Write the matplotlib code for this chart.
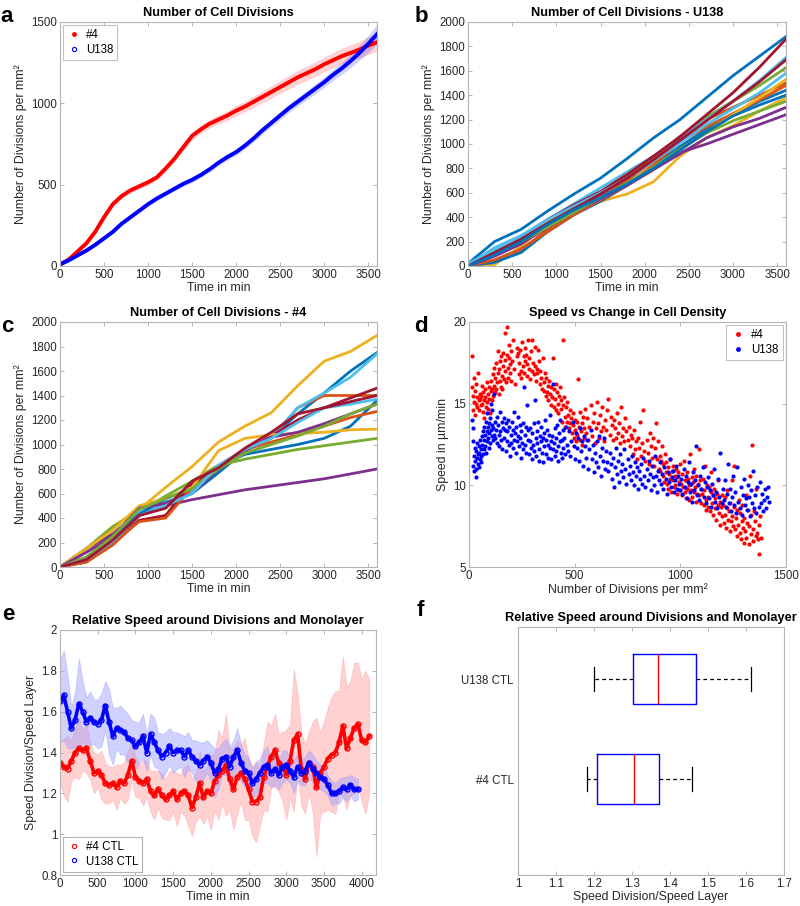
import numpy as np
import matplotlib
matplotlib.use("Agg")
import matplotlib.pyplot as plt
from matplotlib.lines import Line2D

plt.rcParams['font.family'] = ['Liberation Sans', 'DejaVu Sans']

# ---------------- Panel a data ----------------
a_time = [0, 100, 200, 300, 400, 500, 600, 700, 800, 900, 1000, 1100, 1200, 1300, 1400, 1500, 1600, 1700, 1800,
          1900, 2000, 2100, 2200, 2300, 2400, 2500, 2600, 2700, 2800, 2900, 3000, 3100, 3200, 3300, 3400, 3500, 3600]
a_red = [10, 40, 90, 140, 210, 300, 380, 430, 465, 490, 515, 545, 600, 660, 730, 800, 840, 875, 900,
         925, 955, 980, 1010, 1040, 1070, 1100, 1130, 1160, 1185, 1210, 1240, 1265, 1290, 1310, 1330, 1355, 1375]
a_red_err = [3, 5, 8, 10, 12, 14, 15, 16, 16, 17, 18, 18, 19, 20, 22, 24, 25, 26, 28,
             30, 32, 33, 35, 36, 38, 40, 42, 43, 44, 45, 46, 47, 48, 50, 52, 54, 55]
a_blue = [10, 35, 65, 95, 130, 170, 210, 260, 300, 340, 380, 415, 445, 475, 505, 530, 560, 595, 635,
          670, 700, 740, 785, 835, 880, 925, 970, 1010, 1050, 1090, 1130, 1175, 1215, 1260, 1310, 1365, 1425]
a_blue_err = [3, 5, 7, 8, 9, 10, 11, 12, 12, 13, 13, 14, 14, 15, 15, 16, 16, 17, 18,
              19, 20, 21, 22, 23, 24, 25, 26, 27, 28, 30, 32, 34, 36, 40, 45, 52, 60]

# ---------------- Panels b / c data ----------------
bc_time = [0, 300, 600, 900, 1200, 1500, 1800, 2100, 2400, 2700, 3000, 3300, 3600]
b_series = [
    [20, 200, 300, 450, 590, 720, 880, 1050, 1200, 1380, 1560, 1720, 1880],
    [0, 40, 130, 300, 450, 560, 700, 860, 1060, 1200, 1300, 1400, 1500],
    [0, 10, 160, 350, 460, 530, 590, 690, 900, 1050, 1150, 1270, 1380],
    [0, 100, 230, 350, 470, 570, 680, 800, 930, 1000, 1080, 1160, 1240],
    [0, 110, 220, 360, 480, 600, 740, 880, 1060, 1220, 1350, 1480, 1625],
    [10, 150, 250, 380, 510, 640, 770, 900, 1050, 1200, 1350, 1520, 1710],
    [0, 120, 230, 380, 500, 610, 750, 900, 1060, 1240, 1420, 1630, 1860],
    [0, 30, 110, 280, 420, 530, 660, 820, 980, 1120, 1240, 1350, 1440],
    [0, 50, 140, 280, 420, 540, 660, 830, 1020, 1140, 1250, 1360, 1480],
    [0, 90, 230, 370, 470, 560, 660, 790, 950, 1100, 1240, 1380, 1530],
    [0, 80, 180, 320, 440, 550, 660, 790, 920, 1050, 1140, 1210, 1300],
    [0, 100, 200, 320, 440, 560, 680, 810, 960, 1090, 1190, 1270, 1350],
    [20, 130, 240, 380, 490, 600, 720, 860, 1010, 1160, 1290, 1420, 1580],
    [0, 110, 220, 350, 470, 590, 720, 870, 1030, 1190, 1350, 1510, 1690],
    [0, 90, 200, 340, 460, 560, 670, 800, 950, 1100, 1230, 1320, 1400],
]
c_series = [
    [0, 60, 200, 420, 530, 600, 770, 950, 1060, 1250, 1420, 1600, 1750],
    [0, 40, 180, 380, 420, 700, 830, 960, 1050, 1300, 1400, 1400, 1400],
    [0, 150, 330, 470, 650, 820, 1020, 1150, 1260, 1480, 1680, 1760, 1890],
    [0, 150, 270, 450, 500, 550, 590, 630, 660, 690, 720, 760, 800],
    [0, 150, 330, 450, 580, 700, 830, 880, 920, 960, 990, 1020, 1050],
    [0, 50, 200, 450, 520, 620, 820, 950, 1060, 1300, 1420, 1550, 1740],
    [0, 50, 200, 380, 420, 680, 800, 950, 1070, 1200, 1300, 1380, 1460],
    [0, 80, 250, 430, 560, 640, 820, 920, 960, 1000, 1050, 1150, 1360],
    [0, 40, 200, 370, 400, 650, 800, 960, 1020, 1080, 1150, 1220, 1270],
    [0, 150, 300, 500, 560, 650, 950, 1050, 1080, 1090, 1100, 1120, 1125],
    [0, 120, 250, 480, 520, 600, 800, 950, 1060, 1100, 1170, 1250, 1330],
    [0, 80, 250, 470, 560, 640, 800, 930, 1000, 1070, 1150, 1250, 1330],
    [0, 60, 210, 420, 500, 600, 830, 960, 1050, 1180, 1300, 1330, 1370],
    [0, 60, 220, 420, 480, 700, 810, 970, 1100, 1250, 1300, 1350, 1400],
]
matlab_colors = ['#0072BD', '#D95319', '#EDB120', '#7E2F8E', '#77AC30', '#4DBEEE', '#A2142F']

# ---------------- Panel d data ----------------
d_red = [
    (12,16.0),(15,17.9),(18,15.5),(20,14.6),(22,16.6),(25,15.1),(28,14.3),(30,15.8),(33,16.2),(35,15.0),(38,14.8),
    (40,15.4),(42,16.9),(45,15.2),(48,14.6),(50,15.6),(52,15.3),(55,14.9),(58,15.5),(60,16.1),(62,15.0),(65,14.5),
    (68,15.7),(70,15.2),(72,14.1),(75,15.9),(78,15.4),(80,14.8),(83,16.3),(85,15.1),(88,14.7),(90,15.6),(93,16.0),
    (95,15.3),(98,14.4),
    (102,15.8),(105,16.4),(108,15.2),(110,15.9),(113,16.8),(115,15.5),(118,17.2),(120,16.1),(123,15.7),(125,16.6),
    (128,17.5),(130,15.9),(133,16.3),(135,18.2),(138,16.9),(140,15.6),(143,17.1),(145,16.4),(148,17.6),(150,16.0),
    (153,17.9),(155,16.7),(158,15.9),(160,17.3),(163,18.1),(165,16.5),(168,17.0),(170,19.3),(172,17.7),(175,16.3),
    (178,19.7),(180,18.0),(183,17.2),(185,16.6),(188,17.8),(190,18.6),(193,16.9),(195,17.4),(198,18.2),(200,16.4),
    (205,17.6),(210,18.9),(215,17.1),(220,16.2),(225,18.4),(228,17.9),(232,18.1),(235,16.8),(238,17.5),(240,18.3),
    (245,17.0),(248,16.6),
    (252,18.8),(255,17.3),(258,17.9),(260,16.9),(263,18.4),(266,17.6),(270,18.0),(273,16.7),(276,17.4),(280,18.9),
    (283,17.1),(286,17.8),(290,16.5),(293,18.2),(296,17.0),(300,18.9),(303,17.5),(306,16.8),(310,17.3),(313,18.5),
    (316,16.4),(320,17.1),(323,16.9),(326,18.3),(330,17.6),(334,16.2),(338,17.0),(342,16.6),(346,15.9),(350,17.8),
    (353,16.3),(356,15.8),(360,16.9),(363,15.5),(366,16.6),(370,15.7),(373,16.1),(376,15.2),(380,16.4),(383,15.6),
    (386,14.9),(390,16.0),(393,15.4),(396,17.8),(400,15.9),(403,14.8),(406,15.3),(410,16.2),(413,14.6),(416,15.7),
    (420,15.0),(423,14.4),(426,15.5),(430,16.0),(433,14.7),(436,15.2),(440,13.9),(443,14.9),(446,18.9),(450,15.4),
    (453,14.2),(456,13.6),(460,14.8),(463,13.9),(466,15.1),(470,14.3),(473,13.5),(476,14.6),(480,13.8),(483,14.1),
    (486,13.2),(490,14.4),(493,13.7),(496,12.9),(500,14.0),(503,13.4),(506,12.7),(510,13.9),(513,13.1),(516,16.5),
    (520,13.6),(523,12.8),(526,14.5),(530,13.3),(533,12.5),(536,13.8),(540,14.2),(543,12.9),(546,13.5),(550,14.7),
    (555,13.2),(560,14.1),(565,12.8),(570,13.6),(575,14.9),(580,13.0),(585,13.9),(590,14.4),(595,12.6),(600,13.5),
    (605,15.1),(610,13.8),(615,12.9),(620,14.3),(625,13.3),(630,14.8),(635,13.6),(640,12.7),(645,14.0),(650,13.4),
    (655,14.6),(660,15.3),(665,13.1),(670,14.2),(675,13.7),(680,12.8),(685,14.0),(690,13.5),(695,12.9),(700,14.4),
    (705,13.2),(710,13.8),(715,12.6),(720,14.8),(725,13.0),(730,13.5),(735,12.7),(740,14.1),(745,13.3),(750,12.8),
    (755,13.6),(760,12.4),(765,13.1),(770,12.9),(775,11.9),(780,13.4),(785,12.2),(790,12.7),(795,11.6),(800,12.9),
    (805,12.3),(810,13.9),(815,11.8),(820,12.6),(825,14.6),(830,12.1),(835,11.5),(840,12.8),(845,12.0),(850,11.3),
    (855,13.2),(860,12.4),(865,11.7),(870,12.9),(875,11.2),(880,12.3),(885,13.8),(890,11.6),(895,12.7),(900,11.0),
    (903,11.8),(906,10.9),(910,11.5),(913,12.4),(916,10.6),(920,11.3),(923,10.2),(926,11.9),(930,10.8),(933,11.4),
    (936,10.1),(940,11.1),(943,9.8),(946,10.7),(950,11.6),(953,10.4),(956,9.6),(960,10.9),(963,10.3),(966,11.2),
    (970,9.9),(973,10.6),(976,10.0),(980,11.0),(983,9.5),(986,10.5),(990,10.8),(993,9.7),(996,10.2),(999,11.3),
    (1003,10.1),(1006,9.4),(1010,10.7),(1013,9.9),(1016,11.5),(1020,9.6),(1023,10.3),(1026,9.2),(1030,10.8),(1033,9.8),
    (1036,10.4),(1040,9.1),(1043,10.0),(1046,11.9),(1050,9.7),(1053,10.5),(1056,9.3),(1060,10.2),(1063,9.6),(1066,11.0),
    (1070,9.9),(1073,9.0),(1076,10.6),(1080,9.5),(1083,10.1),(1086,12.2),(1090,9.4),(1093,10.3),(1096,8.9),(1099,9.8),
    (1103,9.5),(1106,10.4),(1110,8.8),(1113,9.7),(1116,11.2),(1120,9.1),(1123,8.5),(1126,10.0),(1130,9.3),(1133,8.7),
    (1136,9.9),(1140,8.4),(1143,9.6),(1146,10.8),(1150,8.9),(1153,9.4),(1156,8.2),(1160,9.8),(1163,8.6),(1166,9.2),
    (1170,7.9),(1173,9.5),(1176,8.8),(1180,10.3),(1183,8.3),(1186,9.0),(1190,7.6),(1193,8.7),(1196,9.4),(1199,8.1),
    (1203,8.8),(1206,7.7),(1210,9.3),(1213,8.2),(1216,7.4),(1220,8.6),(1223,9.7),(1226,7.9),(1230,8.4),(1233,7.2),
    (1236,8.9),(1240,7.8),(1243,10.3),(1246,8.1),(1250,7.5),(1253,8.7),(1256,11.2),(1260,7.3),(1263,8.0),(1266,6.9),
    (1270,8.5),(1273,7.6),(1276,9.1),(1280,7.1),(1283,8.3),(1286,6.7),(1290,7.8),(1293,8.8),(1296,7.4),(1299,6.5),
    (1303,8.0),(1306,7.2),(1310,9.4),(1313,6.8),(1316,7.7),(1320,8.5),(1323,6.4),(1326,7.5),(1330,10.6),(1333,7.0),
    (1336,8.2),(1340,12.5),(1343,7.3),(1346,6.6),(1350,8.4),(1353,7.8),(1356,6.9),(1360,9.8),(1363,7.1),(1366,6.7),
    (1370,7.6),(1373,5.8),(1376,8.1),(1380,6.8),
]
d_blue = [
    (15,14.0),(17,12.7),(19,11.2),(21,13.5),(23,11.8),(25,10.9),(27,12.3),(29,11.5),(31,11.0),(33,12.1),(35,10.5),
    (37,11.7),(39,12.6),(41,11.3),(43,11.9),(45,12.4),(47,11.1),(49,12.0),(51,11.6),(53,12.8),(55,11.4),(57,12.2),
    (59,11.8),(61,13.0),
    (63,12.5),(65,11.9),(67,13.3),(69,12.2),(71,12.8),(73,13.6),(75,12.4),(77,13.1),(79,12.0),(81,13.9),(83,12.7),
    (85,13.3),(87,14.4),(89,12.9),(91,13.6),(93,12.3),(95,13.8),(97,13.2),(99,14.1),(101,12.6),(103,13.4),(105,15.0),
    (107,13.0),(109,13.7),(111,14.6),(113,12.8),(115,13.5),(117,15.6),(119,13.1),
    (122,13.9),(125,12.9),(128,13.4),(131,14.2),(134,12.6),(137,13.7),(140,13.1),(143,12.4),(146,14.5),(149,13.3),
    (152,12.8),(155,13.9),(158,12.2),(161,13.5),(164,14.1),(167,12.9),(170,13.4),(173,12.1),(176,13.8),(179,12.7),
    (182,13.3),(185,14.0),(188,12.5),(191,13.6),(194,11.8),(197,13.1),(200,12.6),(203,13.9),(206,12.3),(209,13.4),
    (212,14.5),(215,12.8),(218,13.2),(221,12.0),(224,13.6),(227,12.7),(230,14.2),(233,13.0),(236,12.4),(239,13.7),
    (242,12.9),(245,11.7),(248,13.3),(251,12.6),(254,13.8),(257,12.2),(260,16.0),(263,13.1),(266,12.5),(269,13.6),
    (272,12.0),(275,14.9),(278,12.8),(281,13.4),(284,11.9),(287,12.7),(290,13.5),(293,12.3),(296,11.6),(299,13.2),
    (303,12.5),(306,13.8),(309,12.1),(312,15.2),(315,12.9),(318,11.8),(321,13.3),(324,12.6),(327,13.9),(330,12.2),
    (333,11.5),(336,13.0),(339,12.7),(342,13.6),(345,12.0),(348,12.9),(351,11.4),(354,13.2),(357,12.4),(360,14.0),
    (363,12.8),(366,11.9),(369,13.4),(372,12.5),(375,11.7),(378,13.1),(381,12.3),(384,14.3),(387,12.7),(390,11.6),
    (393,13.0),(396,12.2),(399,16.2),(402,12.6),(405,13.5),(408,11.8),(411,12.9),(414,12.1),(417,13.7),(420,12.4),
    (423,11.5),(426,13.2),(429,12.7),(432,14.0),(435,12.0),(438,12.8),(441,11.7),(444,13.4),(447,12.3),(450,12.9),
    (455,11.9),(460,13.6),(465,12.5),(470,12.1),(475,13.3),(480,11.8),(485,12.7),(490,13.9),(495,12.4),(500,11.6),
    (505,13.2),(510,12.3),(515,12.9),(520,11.5),(525,13.5),(530,12.1),(535,12.7),(540,11.2),(545,13.0),(550,12.4),
    (555,11.7),(560,12.8),(565,11.0),(570,12.2),(575,13.4),(580,11.6),(585,12.5),(590,10.8),(595,12.0),(600,11.4),
    (605,12.7),(610,11.1),(615,13.0),(620,11.8),(625,10.6),(630,12.3),(635,11.5),(640,12.9),(645,11.0),(650,12.1),
    (655,11.4),(660,10.9),(665,12.0),(670,11.3),(675,10.4),(680,11.7),(685,9.9),(690,11.1),(695,12.3),(700,10.7),
    (705,11.5),(710,10.2),(715,11.9),(720,10.9),(725,11.3),(730,10.5),(735,12.2),(740,11.0),(745,10.1),(750,11.6),
    (755,10.7),(760,11.2),(765,10.3),(770,11.8),(775,10.8),(780,10.0),(785,11.4),(790,10.6),(795,11.1),(800,9.8),
    (805,10.9),(810,10.4),(815,11.3),(820,10.1),(825,11.7),(830,10.6),(835,9.9),(840,11.0),(845,10.3),(850,11.5),
    (855,10.7),(860,9.7),(865,11.2),(870,10.5),(875,10.0),(880,11.8),(885,10.6),(890,9.6),(895,10.9),(900,10.3),
    (905,11.4),(910,10.1),(915,10.7),(920,9.8),(925,11.1),(930,10.4),(935,9.5),(940,10.8),(945,10.2),(950,11.6),
    (955,9.9),(960,10.5),(965,10.9),(970,9.6),(975,10.3),(980,11.2),(985,9.8),(990,10.6),(995,10.1),(1000,9.7),
    (1005,10.4),(1010,9.5),(1015,11.0),(1020,9.9),(1025,10.6),(1030,9.2),(1035,10.2),(1040,11.4),(1045,9.6),(1050,10.1),
    (1055,9.0),(1060,10.8),(1065,9.7),(1070,10.3),(1075,12.4),(1080,9.4),(1085,10.0),(1090,9.1),(1095,10.6),(1100,9.8),
    (1105,11.1),(1110,9.3),(1115,10.2),(1120,8.9),(1125,9.9),(1130,10.5),(1135,9.2),(1140,9.7),(1145,8.7),(1150,10.1),
    (1155,9.4),(1160,11.0),(1165,9.0),(1170,9.6),(1175,8.6),(1180,10.4),(1185,9.3),(1190,12.0),(1195,8.9),(1200,9.8),
    (1205,9.1),(1210,10.3),(1215,8.7),(1220,9.5),(1225,11.3),(1230,8.9),(1235,9.8),(1240,8.4),(1245,9.3),(1250,10.6),
    (1255,8.8),(1260,9.6),(1265,8.3),(1270,11.1),(1275,9.0),(1280,8.6),(1285,9.9),(1290,8.2),(1295,9.4),(1300,10.4),
    (1305,8.8),(1310,9.2),(1315,8.5),(1320,10.0),(1325,9.3),(1330,8.1),(1335,9.7),(1340,8.9),(1345,10.9),(1350,8.6),
    (1355,9.4),(1360,8.3),(1365,9.9),(1370,8.7),(1375,10.2),(1380,8.9),(1385,9.5),(1390,8.4),(1395,9.1),(1400,9.8),
    (1405,8.6),(1410,9.3),(1415,9.9),(1420,9.0),
]

# ---------------- Panel e data ----------------
e_red_time = list(range(0, 4101, 50))
e_red = [1.35, 1.33, 1.32, 1.36, 1.40, 1.42, 1.41, 1.42, 1.36, 1.30,
         1.31, 1.29, 1.25, 1.24, 1.25, 1.23, 1.26, 1.25, 1.29, 1.36,
         1.28, 1.26, 1.25, 1.27, 1.21, 1.19, 1.22, 1.19, 1.17, 1.19,
         1.21, 1.17, 1.20, 1.21, 1.19, 1.13, 1.18, 1.25, 1.18, 1.21,
         1.20, 1.26, 1.29, 1.31, 1.34, 1.27, 1.22, 1.28, 1.30, 1.27,
         1.22, 1.16, 1.16, 1.18, 1.28, 1.33, 1.38, 1.41, 1.35, 1.33,
         1.29, 1.36, 1.46, 1.49, 1.32, 1.27, 1.35, 1.33, 1.23, 1.30,
         1.33, 1.37, 1.39, 1.40, 1.45, 1.53, 1.42, 1.47, 1.52, 1.54,
         1.46, 1.45, 1.48]
e_red_err = [0.10, 0.14, 0.16, 0.10, 0.12, 0.15, 0.10, 0.12, 0.09, 0.10,
             0.08, 0.12, 0.10, 0.09, 0.08, 0.11, 0.08, 0.10, 0.12, 0.09,
             0.10, 0.08, 0.11, 0.09, 0.10, 0.12, 0.09, 0.11, 0.10, 0.12,
             0.10, 0.13, 0.09, 0.12, 0.15, 0.14, 0.12, 0.16, 0.13, 0.12,
             0.18, 0.14, 0.22, 0.16, 0.25, 0.15, 0.20, 0.18, 0.14, 0.20,
             0.15, 0.17, 0.20, 0.14, 0.16, 0.22, 0.15, 0.18, 0.14, 0.17,
             0.22, 0.18, 0.35, 0.20, 0.18, 0.17, 0.15, 0.22, 0.34, 0.20,
             0.22, 0.25, 0.28, 0.30, 0.25, 0.34, 0.30, 0.28, 0.32, 0.30,
             0.30, 0.35, 0.28]
e_blue_time = list(range(0, 3951, 50))
e_blue = [1.65, 1.68, 1.60, 1.52, 1.56, 1.64, 1.60, 1.55, 1.57, 1.55,
          1.54, 1.56, 1.63, 1.55, 1.48, 1.52, 1.51, 1.50, 1.47, 1.46,
          1.43, 1.45, 1.48, 1.40, 1.49, 1.45, 1.41, 1.38, 1.40, 1.43,
          1.40, 1.41, 1.41, 1.38, 1.41, 1.38, 1.36, 1.34, 1.36, 1.38,
          1.35, 1.30, 1.32, 1.37, 1.38, 1.33, 1.38, 1.41, 1.35, 1.31,
          1.30, 1.25, 1.27, 1.30, 1.33, 1.34, 1.30, 1.32, 1.29, 1.33,
          1.34, 1.31, 1.28, 1.33, 1.30, 1.31, 1.35, 1.32, 1.30, 1.28,
          1.27, 1.24, 1.20, 1.20, 1.21, 1.23, 1.22, 1.24, 1.22, 1.22]
e_blue_err = [0.20, 0.22, 0.18, 0.10, 0.14, 0.22, 0.15, 0.12, 0.13, 0.11,
              0.12, 0.13, 0.12, 0.16, 0.14, 0.10, 0.12, 0.11, 0.12, 0.10,
              0.12, 0.10, 0.11, 0.09, 0.10, 0.12, 0.09, 0.11, 0.10, 0.09,
              0.10, 0.09, 0.08, 0.10, 0.09, 0.08, 0.10, 0.11, 0.09, 0.08,
              0.09, 0.12, 0.10, 0.08, 0.09, 0.10, 0.08, 0.11, 0.09, 0.08,
              0.08, 0.07, 0.08, 0.07, 0.08, 0.09, 0.07, 0.08, 0.07, 0.08,
              0.07, 0.06, 0.08, 0.07, 0.06, 0.07, 0.06, 0.07, 0.06, 0.06,
              0.06, 0.05, 0.06, 0.05, 0.06, 0.05, 0.06, 0.05, 0.06, 0.05]

# ---------------- Panel f data ----------------
f_labels = ['U138 CTL', '#4 CTL']
f_whislo = [1.200, 1.181]
f_q1 = [1.302, 1.207]
f_med = [1.368, 1.305]
f_q3 = [1.468, 1.372]
f_whishi = [1.612, 1.458]

# ---------------- styling helpers ----------------
SPINE = '#b4b4b4'
TXT = '#262626'
W, H = 800, 906


def place(l, t, r, b):
    return fig.add_axes([l / W, 1 - b / H, (r - l) / W, (b - t) / H])


def style(ax):
    for s in ax.spines.values():
        s.set_color(SPINE)
        s.set_linewidth(0.8)
    ax.tick_params(direction='in', length=3, width=0.7, top=True, right=True,
                   colors=SPINE, labelcolor=TXT, labelsize=8.3, pad=2)


def title(ax, s):
    ax.set_title(s, fontsize=9.2, fontweight='bold', color='black', pad=4)


def lbl(ax, x=None, y=None):
    if x:
        ax.set_xlabel(x, fontsize=8.8, color=TXT, labelpad=1)
    if y:
        ax.set_ylabel(y, fontsize=8.8, color=TXT, labelpad=3)


fig = plt.figure(figsize=(8, 9.06), dpi=100)
DIV = 'Number of Divisions per mm²'

# ---------------- a ----------------
ax = place(60, 22, 377, 266)
style(ax)
t = np.array(a_time)
for mean, err, col in [(a_red, a_red_err, 'red'), (a_blue, a_blue_err, 'blue')]:
    m = np.array(mean); e = np.array(err)
    ax.fill_between(t, m - e, m + e, color=col, alpha=0.18, lw=0)
    ax.plot(t, m, color=col, lw=2.8)
ax.set_xlim(0, 3600); ax.set_ylim(0, 1500)
ax.set_xticks([0, 500, 1000, 1500, 2000, 2500, 3000, 3500]); ax.set_yticks([0, 500, 1000, 1500])
title(ax, 'Number of Cell Divisions'); lbl(ax, 'Time in min', DIV)
hd = [Line2D([], [], ls='none', marker='.', color='red', ms=5),
      Line2D([], [], ls='none', marker='o', mfc='none', mec='blue', ms=3, mew=0.8)]
leg = ax.legend(hd, ['#4', 'U138'], loc='upper left', fontsize=8.3, frameon=True, fancybox=False,
                edgecolor=SPINE, borderpad=0.35, handlelength=1.2, handletextpad=0.4, labelspacing=0.25,
                borderaxespad=0.3)
leg.get_frame().set_linewidth(0.8)

# ---------------- b ----------------
ax = place(468, 22, 786, 266)
style(ax)
for i, s in enumerate(b_series):
    ax.plot(bc_time, s, color=matlab_colors[i % 7], lw=2)
ax.set_xlim(0, 3600); ax.set_ylim(0, 2000)
ax.set_xticks(range(0, 3600, 500)); ax.set_yticks(range(0, 2001, 200))
title(ax, 'Number of Cell Divisions - U138'); lbl(ax, 'Time in min', DIV)

# ---------------- c ----------------
ax = place(60, 322, 377, 567)
style(ax)
for i, s in enumerate(c_series):
    ax.plot(bc_time, s, color=matlab_colors[i % 7], lw=2)
ax.set_xlim(0, 3600); ax.set_ylim(0, 2000)
ax.set_xticks(range(0, 3600, 500)); ax.set_yticks(range(0, 2001, 200))
title(ax, 'Number of Cell Divisions - #4'); lbl(ax, 'Time in min', DIV)

# ---------------- d ----------------
ax = place(469, 322, 786, 567)
style(ax)
dr = np.array(d_red); db = np.array(d_blue)
ax.scatter(dr[:, 0], dr[:, 1], s=9, color='red', lw=0)
ax.scatter(db[:, 0], db[:, 1], s=9, color='blue', lw=0)
ax.set_xlim(0, 1500); ax.set_ylim(5, 20)
ax.set_xticks([0, 500, 1000, 1500]); ax.set_yticks([5, 10, 15, 20])
title(ax, 'Speed vs Change in Cell Density'); lbl(ax, DIV, 'Speed in µm/min')
hd = [Line2D([], [], ls='none', marker='.', color='red', ms=5),
      Line2D([], [], ls='none', marker='.', color='blue', ms=5)]
leg = ax.legend(hd, ['#4', 'U138'], loc='upper right', fontsize=8.3, frameon=True, fancybox=False,
                edgecolor=SPINE, borderpad=0.35, handlelength=1.4, handletextpad=0.4, labelspacing=0.25,
                borderaxespad=0.3)
leg.get_frame().set_linewidth(0.8)

# ---------------- e ----------------
ax = place(60, 630, 376, 875)
style(ax)
for tt, m, e, col, fc in [(e_red_time, e_red, e_red_err, 'red', '#ff9a9a'),
                          (e_blue_time, e_blue, e_blue_err, 'blue', '#9a9aff')]:
    tt = np.array(tt); m = np.array(m); e = np.array(e)
    ax.fill_between(tt, m - e, m + e, color=fc, alpha=0.45, lw=0.6, edgecolor=fc)
for tt, m, col in [(e_red_time, e_red, 'red'), (e_blue_time, e_blue, 'blue')]:
    ax.plot(tt, m, color=col, lw=2.6, marker='o', ms=3.6, mfc='none', mec=col, mew=1.0)
ax.set_xlim(0, 4190); ax.set_ylim(0.8, 2)
ax.set_xticks(range(0, 4001, 500)); ax.set_yticks([0.8, 1, 1.2, 1.4, 1.6, 1.8, 2])
ax.set_yticklabels(['0.8', '1', '1.2', '1.4', '1.6', '1.8', '2'])
title(ax, 'Relative Speed around Divisions and Monolayer'); lbl(ax, 'Time in min', 'Speed Division/Speed Layer')
hd = [Line2D([], [], ls='none', marker='o', mfc='none', mec='red', ms=3, mew=0.8),
      Line2D([], [], ls='none', marker='o', mfc='none', mec='blue', ms=3, mew=0.8)]
leg = ax.legend(hd, ['#4 CTL', 'U138 CTL'], loc='lower left', fontsize=8.3, frameon=True, fancybox=False,
                edgecolor=SPINE, borderpad=0.35, handlelength=1.2, handletextpad=0.4, labelspacing=0.25,
                borderaxespad=0.3, framealpha=1)
leg.get_frame().set_linewidth(0.8)

# ---------------- f ----------------
ax = place(518, 627, 784, 875)
style(ax)
stats = []
for i in range(2):
    stats.append(dict(label=f_labels[i], whislo=f_whislo[i], q1=f_q1[i], med=f_med[i],
                      q3=f_q3[i], whishi=f_whishi[i], fliers=[]))
ax.bxp(stats, positions=[1, 2], vert=False, widths=0.5, showfliers=False,
       boxprops=dict(color='blue', lw=1.0),
       medianprops=dict(color='red', lw=1.0),
       whiskerprops=dict(color='black', lw=0.9, ls=(0, (3, 2.5))),
       capprops=dict(color='black', lw=0.9), capwidths=0.24)
ax.set_ylim(2.96, 0.48)
ax.set_xlim(1, 1.7)
ax.set_xticks([1, 1.1, 1.2, 1.3, 1.4, 1.5, 1.6, 1.7])
ax.set_xticklabels(['1', '1.1', '1.2', '1.3', '1.4', '1.5', '1.6', '1.7'])
ax.tick_params(axis='y', length=0, pad=3)
title(ax, 'Relative Speed around Divisions and Monolayer'); lbl(ax, 'Speed Division/Speed Layer')

# ---------------- panel letters ----------------
for s, x, y in [('a', 7, 17), ('b', 421, 17), ('c', 7, 327), ('d', 421, 326), ('e', 8, 615), ('f', 420, 610)]:
    fig.text(x / W, 1 - y / H, s, fontsize=16, fontweight='bold', ha='center', va='center', color='black')

fig.savefig('out.png', dpi=100)
